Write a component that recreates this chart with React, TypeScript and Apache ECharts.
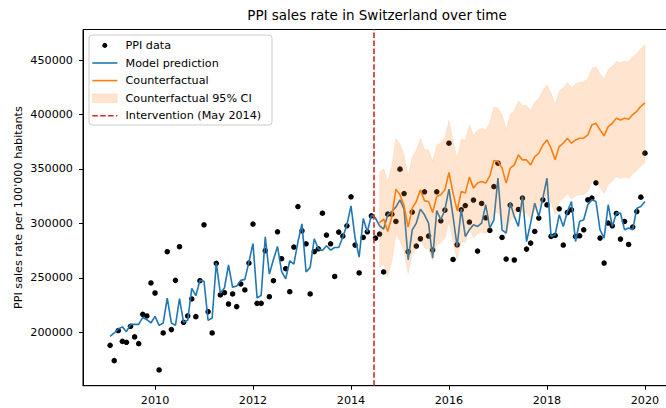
import React, { useEffect, useRef } from "react";
import * as echarts from "echarts";

// Monthly observations, Jan 2009 .. Dec 2019 (month-end)
const START_YEAR = 2009;

const PPI_DATA = [
  188100, 174000, 201600, 191700, 190800, 205500, 195800, 189600, 216500, 215000, 245300, 236100,
  165500, 199400, 274000, 202500, 247700, 278600, 209200, 215000, 230600, 214400, 247400, 298700,
  219000, 199400, 263300, 234300, 236400, 226000, 235200, 223600, 244400, 238900, 263600, 299400,
  226600, 226600, 274900, 232700, 247400, 292300, 267600, 258400, 237300, 278300, 315500, 293200,
  281300, 235200, 274000, 276700, 309400, 289300, 281300, 251300, 292000, 288400, 297800, 324400,
  280100, 254500, 287100, 292300, 307000, 286500, 290200, 255400, 308500, 308500, 301800, 349800,
  327400, 274000, 310400, 279200, 285900, 329000, 288400, 275500, 329000, 302400, 312200, 373600,
  266900, 280400, 312500, 316400, 301200, 321400, 274600, 318300, 305100, 293500, 333800, 355300,
  287100, 267300, 316800, 266400, 312800, 323200, 276400, 281900, 292600, 304900, 321600, 317000,
  288000, 288900, 313400, 280100, 310000, 312500, 288000, 288600, 294100, 321600, 323200, 337200,
  286500, 263600, 300300, 297800, 309100, 285600, 301800, 280700, 296600, 310900, 324100, 364500,
];

const MODEL_PREDICTION = [
  196300, 199400, 203100, 205000, 200600, 207300, 207300, 207300, 213800, 211600, 208600, 214700,
  206400, 208600, 231500, 208600, 206400, 230900, 209200, 211000, 240300, 233600, 247700, 246800,
  211000, 213200, 263600, 236000, 240700, 261800, 241300, 242500, 247700, 248600, 264500, 281600,
  231500, 233900, 287700, 253500, 266600, 278800, 255900, 249000, 265700, 262700, 282900, 299600,
  255400, 259600, 285900, 276700, 275200, 279500, 275500, 277900, 277900, 287500, 298700, 316100,
  286800, 269100, 304500, 292300, 307600, 304900, 297800, 294800, 307900, 310900, 315000, 321600,
  313100, 266600, 294100, 300300, 313100, 307900, 300300, 268200, 311800, 303300, 312500, 331500,
  306300, 278800, 313100, 288000, 294100, 298700, 297200, 300300, 317100, 295700, 303300, 341500,
  294100, 291100, 318600, 306400, 297200, 324700, 283400, 300300, 318600, 306400, 323200, 341500,
  288000, 289500, 307900, 297200, 310900, 320100, 283400, 301800, 303300, 317100, 321600, 320100,
  294100, 286500, 317100, 297200, 309400, 309400, 294100, 295700, 294100, 314000, 315500, 320100,
];

// Counterfactual starts with the 67th month (Jul 2014)
const CF_START = 66;

const COUNTERFACTUAL = [
  300800, 304000, 292600, 306400, 331400, 326200,
  316100, 296600, 314000, 320100, 330800, 320700, 320100, 310000, 324700, 326200, 330800, 346700,
  327800, 311800, 329300, 327800, 342500, 332400, 337000, 338400, 337000, 343600, 357700, 356800,
  351000, 337000, 350700, 353700, 362900, 358300, 358300, 353700, 361300, 364400, 372000, 376600,
  369000, 358300, 370500, 373600, 378200, 373600, 376600, 378200, 378200, 381200, 390400, 391900,
  385800, 380300, 388800, 391900, 396500, 395000, 396500, 395600, 399900, 402900, 407500, 410600,
];

const CI_UPPER = [
  346800, 350100, 338800, 352700, 377800, 372800,
  362800, 343400, 360900, 367100, 377900, 367900, 367400, 357400, 372200, 373900, 378600, 394600,
  375800, 359900, 377500, 376100, 390900, 380900, 385600, 387200, 385900, 392600, 406800, 406000,
  400300, 386400, 400200, 403300, 412600, 408200, 408300, 403800, 411500, 414700, 422400, 427100,
  419600, 409000, 421300, 424600, 429300, 424800, 427900, 429600, 429700, 432800, 442100, 443700,
  437700, 432400, 441000, 444200, 448900, 447500, 449100, 448300, 452700, 455800, 460500, 463700,
];

const CI_LOWER = [
  259800, 262800, 251200, 264800, 289500, 284100,
  273800, 254100, 271300, 277200, 287600, 277300, 276500, 266200, 280700, 282000, 286400, 302000,
  282900, 266700, 284000, 282300, 296800, 286400, 290800, 292000, 290400, 296800, 310700, 309500,
  303500, 289300, 302800, 305600, 314600, 309700, 309500, 304700, 312100, 315000, 322400, 326700,
  318900, 308000, 320000, 322900, 327300, 322400, 325200, 326600, 326400, 329200, 338200, 339400,
  333100, 327400, 335700, 338600, 343000, 341200, 342500, 341400, 345500, 348300, 352700, 355600,
];

const X_TICKS = [2010, 2012, 2014, 2016, 2018, 2020];
const Y_TICKS = [200000, 250000, 300000, 350000, 400000, 450000];
const INTERVENTION_X = 2014.47;

const TITLE = "PPI sales rate in Switzerland over time";
const Y_LABEL = "PPI sales rate per 100'000 habitants";
const LEGEND_LABELS = [
  "PPI data",
  "Model prediction",
  "Counterfactual",
  "Counterfactual 95% CI",
  "Intervention (May 2014)",
];

const monthX = (i: number) => START_YEAR + (i + 1) / 12;

const FONT = "DejaVu Sans";
const BLUE = "#1f77b4";
const ORANGE = "#ff7f0e";
const RED = "#d62728";
const BAND = "rgba(255,127,14,0.2)";

export default function App() {
  const ref = useRef<HTMLDivElement>(null);

  useEffect(() => {
    if (!ref.current) return;
    const chart = echarts.init(ref.current, null, { renderer: "svg" });

    const scatterData = PPI_DATA.map((v, i) => [monthX(i), v]);
    const modelData = MODEL_PREDICTION.map((v, i) => [monthX(i), v]);
    const cfData = COUNTERFACTUAL.map((v, i) => [monthX(CF_START + i), v]);
    const bandData = CI_UPPER.map((u, i) => [monthX(CF_START + i), CI_LOWER[i], u]);

    const legendRows = [45.4, 63.0, 80.6, 98.2, 115.8];
    const legendText = LEGEND_LABELS.map((t, k) => ({
      type: "text",
      x: 125.5,
      y: legendRows[k],
      z: 102,
      style: {
        text: t,
        fontSize: 11.2,
        fontFamily: FONT,
        fill: "#000",
        align: "left",
        verticalAlign: "middle",
        textAlign: "left",
        textVerticalAlign: "middle",
      },
    }));

    chart.setOption({
      animation: false,
      textStyle: { fontFamily: FONT },
      title: {
        text: TITLE,
        left: "center",
        top: 8,
        padding: 0,
        textStyle: { fontSize: 13.5, fontWeight: "normal", color: "#000", fontFamily: FONT },
      },
      grid: {
        left: 83,
        right: 82.3,
        top: 29.5,
        bottom: 22.3,
        show: true,
        borderColor: "#000",
        borderWidth: 1,
        backgroundColor: "transparent",
        containLabel: false,
      },
      xAxis: {
        type: "value",
        min: 2008.53,
        max: 2020.546,
        axisLine: { show: true, onZero: false, lineStyle: { color: "#000", width: 1 } },
        axisTick: { show: true, length: 4, customValues: X_TICKS, lineStyle: { color: "#000", width: 1 } },
        axisLabel: {
          customValues: X_TICKS,
          margin: 9,
          color: "#000",
          fontSize: 11.2,
          fontFamily: FONT,
          formatter: (v: number) => String(v),
        },
        splitLine: { show: false },
      },
      yAxis: {
        type: "value",
        min: 151000,
        max: 478000,
        axisLine: { show: true, onZero: false, lineStyle: { color: "#000", width: 1 } },
        axisTick: { show: true, length: 4, customValues: Y_TICKS, lineStyle: { color: "#000", width: 1 } },
        axisLabel: {
          customValues: Y_TICKS,
          margin: 10,
          color: "#000",
          fontSize: 11.2,
          fontFamily: FONT,
          formatter: (v: number) => String(v),
        },
        splitLine: { show: false },
      },
      series: [
        {
          name: LEGEND_LABELS[0],
          type: "scatter",
          data: scatterData,
          symbol: "circle",
          symbolSize: 5.5,
          itemStyle: { color: "#000", opacity: 1 },
          z: 2,
          silent: true,
          markLine: {
            silent: true,
            symbol: ["none", "none"],
            label: { show: false },
            lineStyle: { color: RED, type: [5.5, 2.4], width: 1.6, opacity: 1 },
            data: [{ xAxis: INTERVENTION_X }],
          },
        },
        {
          name: LEGEND_LABELS[1],
          type: "line",
          data: modelData,
          symbol: "none",
          lineStyle: { color: BLUE, width: 1.6 },
          itemStyle: { color: BLUE },
          z: 3,
          silent: true,
        },
        {
          name: LEGEND_LABELS[2],
          type: "line",
          data: cfData,
          symbol: "none",
          lineStyle: { color: ORANGE, width: 1.6 },
          itemStyle: { color: ORANGE },
          z: 4,
          silent: true,
        },
        {
          name: LEGEND_LABELS[3],
          type: "custom",
          data: bandData,
          encode: { x: 0, y: [1, 2] },
          z: 5,
          silent: true,
          renderItem: (params: any, api: any) => {
            if (params.dataIndex !== 0) return null;
            const pts: number[][] = [];
            for (let i = 0; i < bandData.length; i++) pts.push(api.coord([bandData[i][0], bandData[i][2]]));
            for (let i = bandData.length - 1; i >= 0; i--) pts.push(api.coord([bandData[i][0], bandData[i][1]]));
            return {
              type: "polygon",
              shape: { points: pts },
              style: { fill: BAND, stroke: "rgba(255,127,14,0.15)", lineWidth: 0.8 },
            };
          },
        },
      ],
      graphic: [
        {
          type: "text",
          x: 18.5,
          y: 207.6,
          rotation: Math.PI / 2,
          style: {
            text: Y_LABEL,
            fontSize: 11.2,
            fontFamily: FONT,
            fill: "#000",
            align: "center",
            verticalAlign: "middle",
            textAlign: "center",
            textVerticalAlign: "middle",
          },
        },
        {
          type: "rect",
          z: 100,
          shape: { x: 89, y: 35, width: 183, height: 90, r: 3 },
          style: { fill: "rgba(255,255,255,0.8)", stroke: "#cccccc", lineWidth: 1 },
        },
        { type: "circle", z: 101, shape: { cx: 104.8, cy: legendRows[0], r: 2.5 }, style: { fill: "#000" } },
        {
          type: "line",
          z: 101,
          shape: { x1: 92.3, y1: legendRows[1], x2: 117.3, y2: legendRows[1] },
          style: { stroke: BLUE, lineWidth: 1.6 },
        },
        {
          type: "line",
          z: 101,
          shape: { x1: 92.3, y1: legendRows[2], x2: 117.3, y2: legendRows[2] },
          style: { stroke: ORANGE, lineWidth: 1.6 },
        },
        {
          type: "rect",
          z: 101,
          shape: { x: 92.3, y: legendRows[3] - 4.3, width: 25, height: 8.6 },
          style: { fill: BAND, stroke: "rgba(255,127,14,0.15)", lineWidth: 0.8 },
        },
        {
          type: "line",
          z: 101,
          shape: { x1: 92.3, y1: legendRows[4], x2: 117.3, y2: legendRows[4] },
          style: { stroke: RED, lineWidth: 1.6, lineDash: [5.5, 2.4] },
        },
        ...legendText,
      ],
    });

    return () => chart.dispose();
  }, []);

  return (
    <div
      style={{
        position: "fixed",
        left: 0,
        top: 0,
        width: 666,
        height: 408,
        overflow: "hidden",
        background: "#fff",
      }}
    >
      <div ref={ref} style={{ width: 754, height: 408 }} />
    </div>
  );
}
